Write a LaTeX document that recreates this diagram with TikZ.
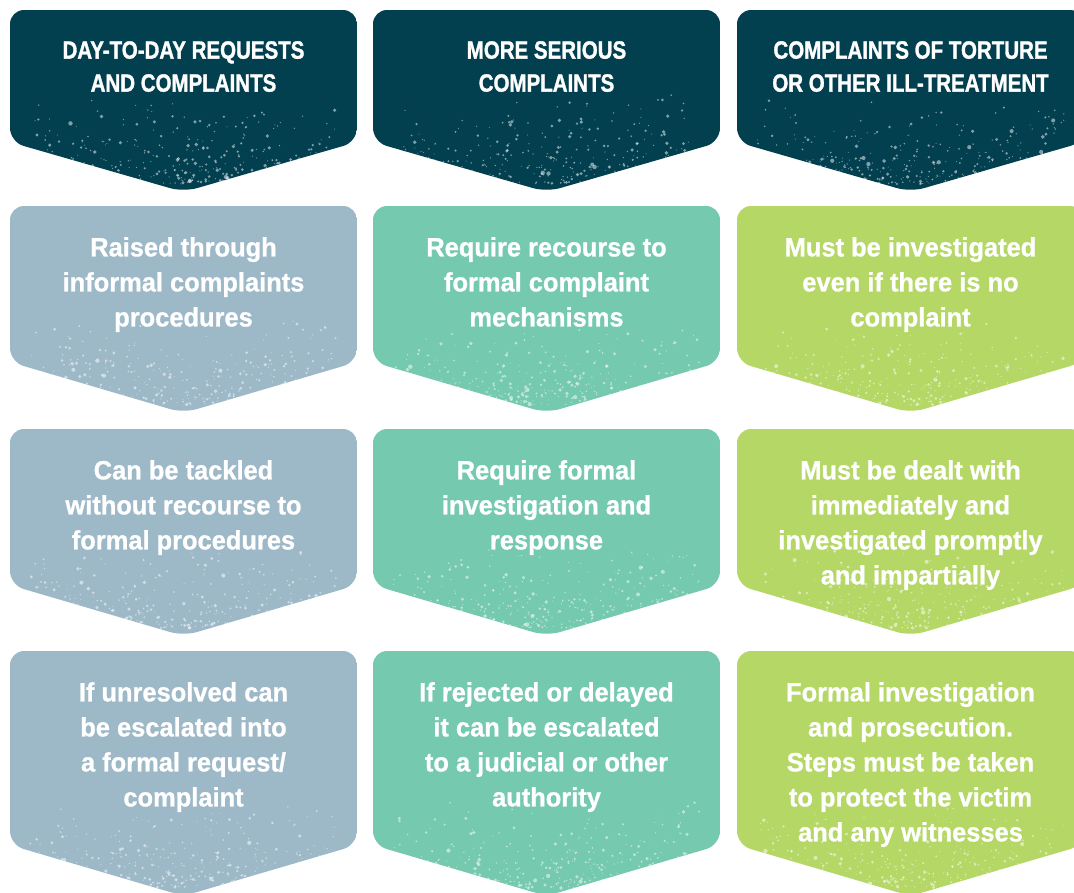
\documentclass[tikz,border=0pt]{standalone}
\usepackage{fontspec}
\setmainfont{Liberation Sans}[FakeStretch=0.96, FakeBold=0.9]
\newfontfamily\headfont{Liberation Sans}[FakeStretch=0.82, FakeBold=1.3]
\usetikzlibrary{positioning}

\definecolor{HeadTeal}{RGB}{2,64,80}
\definecolor{GreyBlue}{RGB}{157,185,200}
\definecolor{Mint}{RGB}{117,201,174}
\definecolor{Lime}{RGB}{180,215,102}

% chevron box: left x, top y, side bottom y, tip y, colour
\newcommand{\chevbox}[5]{%
  \begin{scope}
    \path[clip, rounded corners=14] (#1,#3) -- (#1,#2) -- ({#1+347},#2)
      -- ({#1+347},#3) -- ({#1+173.5},#4) -- cycle;
    \fill[#5] (#1,#2) rectangle ({#1+347},#4);
    \foreach \k in {1,...,420} {
      \pgfmathsetmacro{\sx}{#1+20+307*rnd}
      \pgfmathsetmacro{\sy}{#4-8-90*rnd*rnd}
      \pgfmathsetmacro{\sr}{0.5+1.8*rnd*rnd}
      \fill[white, opacity=0.5] (\sx,\sy) circle (\sr);
    }
  \end{scope}}

\begin{document}
\begin{tikzpicture}[
    x=1pt, y=-1pt,
    hdr/.style={text=white, anchor=north, inner sep=0, align=center,
                font=\headfont\fontsize{25}{33}\selectfont\bfseries},
    txt/.style={text=white, anchor=north, inner sep=0, align=center,
                font=\fontsize{26.5}{35}\selectfont\bfseries}
]
\clip (0,0) rectangle (1074,892);
\pgfmathsetseed{17}

% header row
\chevbox{10}{10}{142}{192}{HeadTeal}
\chevbox{373}{10}{142}{192}{HeadTeal}
\chevbox{737}{10}{142}{192}{HeadTeal}

% second row
\chevbox{10}{206}{362}{413}{GreyBlue}
\chevbox{373}{206}{362}{413}{Mint}
\chevbox{737}{206}{362}{413}{Lime}

% third row
\chevbox{10}{429}{585}{636}{GreyBlue}
\chevbox{373}{429}{585}{636}{Mint}
\chevbox{737}{429}{585}{636}{Lime}

% fourth row
\chevbox{10}{651}{845}{896}{GreyBlue}
\chevbox{373}{651}{845}{896}{Mint}
\chevbox{737}{651}{845}{896}{Lime}

\node[hdr] (hdrdaily) at (183.5,41) {DAY-TO-DAY REQUESTS\\AND COMPLAINTS};
\node[hdr] (hdrserious) at (546.5,41) {MORE SERIOUS\\COMPLAINTS};
\node[hdr] (hdrtorture) at (910.5,41) {COMPLAINTS OF TORTURE\\OR OTHER ILL-TREATMENT};

\node[txt] (dailyraise) at (183.5,237) {Raised through\\informal complaints\\procedures};
\node[txt] (seriousformal) at (546.5,237) {Require recourse to\\formal complaint\\mechanisms};
\node[txt] (tortureinvest) at (910.5,237) {Must be investigated\\even if there is no\\complaint};

\node[txt] (dailytackle) at (183.5,460) {Can be tackled\\without recourse to\\formal procedures};
\node[txt] (seriousresponse) at (546.5,460) {Require formal\\investigation and\\response};
\node[txt] (tortureprompt) at (910.5,460) {Must be dealt with\\immediately and\\investigated promptly\\and impartially};

\node[txt] (dailyescalate) at (183.5,682) {If unresolved can\\be escalated into\\a formal request/\\complaint};
\node[txt] (seriousjudicial) at (546.5,682) {If rejected or delayed\\it can be escalated\\to a judicial or other\\authority};
\node[txt] (tortureprosecute) at (910.5,682) {Formal investigation\\and prosecution.\\Steps must be taken\\to protect the victim\\and any witnesses};

\end{tikzpicture}
\end{document}
